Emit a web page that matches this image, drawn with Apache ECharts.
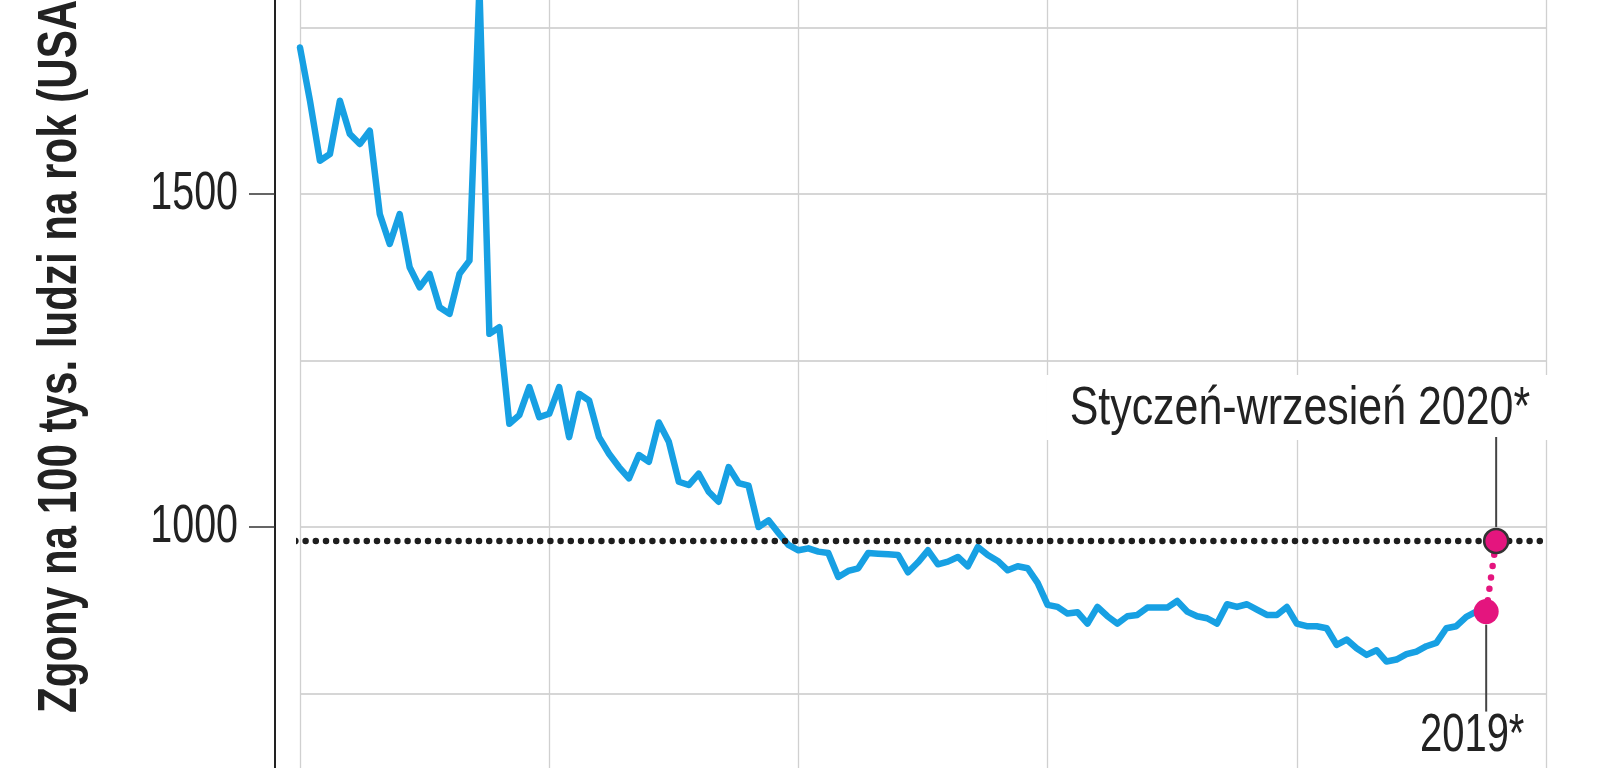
<!DOCTYPE html>
<html>
<head>
<meta charset="utf-8">
<title>Zgony na 100 tys. ludzi na rok (USA)</title>
<script src="https://cdn.jsdelivr.net/npm/echarts@6/dist/echarts.min.js"></script>
<style>
  html, body { margin: 0; padding: 0; background: #fff; }
  #chart { width: 1600px; height: 768px; }
</style>
</head>
<body>
<div id="chart"></div>
<script>
// dane: zgony na 100 tys. mieszkańców, od 1900 do 2019
const startYear = 1900
const deathRate = [
  1720, 1640, 1550, 1560, 1640, 1590, 1575, 1595, 1470, 1425,
  1470, 1390, 1360, 1380, 1330, 1320, 1380, 1400, 1810, 1290,
  1300, 1155, 1168, 1210, 1165, 1170, 1210, 1135, 1200, 1190,
  1135, 1110, 1090, 1073, 1108, 1098, 1157, 1128, 1068, 1063,
  1080, 1053, 1038, 1090, 1066, 1062, 1000, 1010, 991, 973,
  965, 968, 963, 961, 925, 934, 938, 961, 960, 959,
  958, 932, 947, 965, 944, 948, 955, 941, 970, 958,
  949, 935, 941, 938, 916, 883, 880, 870, 872, 855,
  880, 866, 855, 866, 868, 879, 879, 879, 889, 873,
  866, 863, 855, 884, 880, 884, 876, 868, 868, 880,
  855, 851, 851, 848, 823, 831, 818, 808, 815, 798,
  801, 809, 813, 821, 826, 848, 851, 865, 873, 873
]
// styczeń-wrzesień 2020 w przeliczeniu na rok
const year2020 = 2020
const rate2020 = 979

const yTickLabels = [1000, 1500]
const yName = 'Zgony na 100 tys. ludzi na rok (USA)'
const label2020 = 'Styczeń-wrzesień 2020*'
const label2019 = '2019*'

const xMin = 1900, xMax = 2025
const gridLeft = 300, gridRight = 54
const axisGap = 25

const blue = '#17a0e3'
const pink = '#e4157e'
// no condensed font installed, so texts are squeezed with scaleX
const condensed = 0.73

const lineData = deathRate.map((v, i) => [startYear + i, v])
const lastYear = startYear + deathRate.length - 1
const lastRate = deathRate[deathRate.length - 1]

// dotted line starts at the (shifted) y axis, not at the grid edge
const pxPerYear = (1600 - gridLeft - gridRight) / (xMax - xMin)
const dotStart = xMin - axisGap / pxPerYear

const chart = echarts.init(document.getElementById('chart'))

const option = {
  animation: false,
  backgroundColor: '#fff',
  grid: { left: gridLeft, right: gridRight, top: -139, height: 999, containLabel: false, outerBoundsMode: 'none' },
  xAxis: {
    type: 'value', min: xMin, max: xMax, interval: 25,
    axisLine: { show: false }, axisTick: { show: false }, axisLabel: { show: false },
    splitLine: { show: true, lineStyle: { color: '#d0d0d0', width: 1.3 } }
  },
  yAxis: {
    type: 'value', min: 500, max: 2000, interval: 500, offset: axisGap,
    axisLine: { show: true, lineStyle: { color: '#222', width: 2 } },
    axisTick: { show: true, length: 26, lineStyle: { color: '#333', width: 1.5 } },
    axisLabel: { show: false },
    splitLine: { show: true, lineStyle: { color: '#d6d6d6', width: 2 } },
    minorTick: { show: false, splitNumber: 2 },
    minorSplitLine: { show: true, lineStyle: { color: '#d6d6d6', width: 2 } }
  },
  series: [
    {
      type: 'line', data: lineData, showSymbol: false, z: 3,
      lineStyle: { color: blue, width: 6.5, join: 'round', cap: 'round' }
    },
    {
      type: 'line', data: [[dotStart, rate2020], [xMax, rate2020]], showSymbol: false, clip: false, z: 4,
      lineStyle: { color: '#1e1e1e', width: 6.5, type: [0, 10.2], cap: 'round' }
    },
    {
      type: 'line', data: [[lastYear, lastRate], [year2020, rate2020]], showSymbol: false, z: 4,
      lineStyle: { color: pink, width: 6.5, type: [0, 11.5], cap: 'round' }
    },
    {
      type: 'scatter', z: 6,
      data: [
        { value: [lastYear, lastRate], symbolSize: 25 },
        { value: [year2020, rate2020], symbolSize: 24, itemStyle: { borderColor: '#333', borderWidth: 2.5 } }
      ],
      itemStyle: { color: pink, opacity: 1 }
    }
  ]
}
chart.setOption(option)

const p19 = chart.convertToPixel({ gridIndex: 0 }, [lastYear, lastRate])
const p20 = chart.convertToPixel({ gridIndex: 0 }, [year2020, rate2020])
const axisX = gridLeft - axisGap

const txt = (text, x, y, align, font, scaleX, extra) => Object.assign({
  type: 'text', x, y, scaleX, z: 11,
  style: {
    text, font, fill: '#222',
    align, textAlign: align, verticalAlign: 'middle', textVerticalAlign: 'middle'
  }
}, extra || {})

const tickTexts = yTickLabels.map(v => {
  const y = chart.convertToPixel({ yAxisIndex: 0 }, v)
  return txt(String(v), axisX - 37, y, 'right', '54px "Liberation Sans"', condensed)
})

chart.setOption({
  graphic: [
    ...tickTexts,
    txt(yName, 61, 713, 'left', 'bold 55px "Liberation Sans"', 0.765, { rotation: Math.PI / 2 }),
    {
      type: 'rect', z: 10,
      shape: { x: p20[0] - 450, y: p20[1] - 166, width: 512, height: 65 },
      style: { fill: '#fff' }
    },
    txt(label2020, p20[0] + 34, p20[1] - 132, 'right', '53px "Liberation Sans"', 0.81),
    {
      type: 'line', z: 11,
      shape: { x1: p20[0], y1: p20[1] - 104, x2: p20[0], y2: p20[1] - 14 },
      style: { stroke: '#444', lineWidth: 2 }
    },
    {
      type: 'line', z: 11,
      shape: { x1: p19[0], y1: p19[1] + 13, x2: p19[0], y2: p19[1] + 100 },
      style: { stroke: '#444', lineWidth: 2 }
    },
    txt(label2019, p19[0] - 14, p19[1] + 125, 'center', '54px "Liberation Sans"', 0.74)
  ]
})

window.addEventListener('resize', () => chart.resize())
</script>
</body>
</html>
